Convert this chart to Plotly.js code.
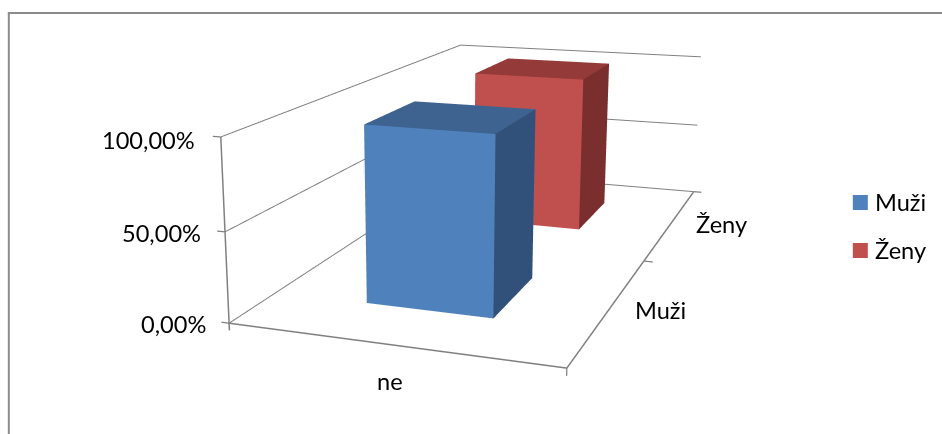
<!DOCTYPE html><html><head><meta charset="utf-8"><script src="https://cdn.plot.ly/plotly-3.0.1.min.js"></script>
<style>html,body{margin:0;background:#fff;overflow:hidden;width:942px;height:434px}#c{position:absolute}</style></head><body><div id="c"></div><script>
const categories=['ne'];
const seriesNames=['Muži','Ženy'];
const seriesValues=[1,1];
const tickValues=[0,0.5,1];
const tickLabels=['0,00%','50,00%','100,00%'];
const seriesColors=[['#4f81bd','#3e6390','#31517a'],['#c0504d','#943a38','#7a2e2d']];

// Pinhole camera fitted to the picture
const eye=[1.2730,-4.0912,0.9983],yaw=-0.3505,pitch=0.2610,aspectY=2.0179,aspectZ=0.5464,focal=1290.7869,cx=440.1815,cy=210.5104;
const barX=[0.3019,0.7019],barY=[[0.1486,0.3496],[0.6505,0.8502]];

const f=[Math.cos(pitch)*Math.sin(yaw),Math.cos(pitch)*Math.cos(yaw),-Math.sin(pitch)];
const dist=Math.hypot(...eye);
const center={x:eye[0]+f[0]*dist,y:eye[1]+f[1]*dist,z:eye[2]+f[2]*dist};
const H=Math.round(2*focal*Math.tan(Math.PI/8)),Wd=Math.round(2*Math.max(cx,942-cx)),L=cx-Wd/2,T=cy-H/2;
const el=document.getElementById('c');el.style.left=L+'px';el.style.top=T+'px';el.style.width=Wd+'px';el.style.height=H+'px';
const X=x=>(x-L)/Wd,Y=y=>1-(y-T)/H;

function box(name,x0,x1,y0,y1,h,cols){return {type:'mesh3d',name,x:[x0,x1,x1,x0,x0,x1,x1,x0],y:[y0,y0,y1,y1,y0,y0,y1,y1],z:[0,0,0,0,h,h,h,h],
i:[4,4,0,0,1,1],j:[5,6,1,5,2,6],k:[6,7,5,4,6,5],facecolor:[cols[1],cols[1],cols[0],cols[0],cols[2],cols[2]],flatshading:true,lighting:{ambient:1,diffuse:0,specular:0,fresnel:0,roughness:1},hoverinfo:'skip',showscale:false}}
function line(pts,w){return {type:'scatter3d',mode:'lines',x:pts.map(p=>p[0]),y:pts.map(p=>p[1]),z:pts.map(p=>p[2]),line:{color:'#808080',width:w},hoverinfo:'skip',showlegend:false}}
const data=[];
for(const z of tickValues){data.push(line([[0,0,z],[0,1,z],[1,1,z]],2));data.push(line([[-.025,0,z],[0,0,z]],2.5))}
data.push(line([[0,0,-.04],[0,0,1]],3));
data.push(line([[0,0,0],[1,0,0],[1,1,0]],3));
data.push(line([[1,0,0],[1,0,-.04]],2.5));
data.push(line([[1,.5,0],[1.03,.5,0]],2.5));
data.push(line([[1,1,0],[1.03,1,0]],2.5));
seriesNames.forEach((n,i)=>data.push(box(n,barX[0],barX[1],barY[i][0],barY[i][1],seriesValues[i],seriesColors[i])));

const ax={range:[-.1,1.1],showgrid:false,showline:false,zeroline:false,showticklabels:false,showbackground:false,showspikes:false,title:{text:''},ticks:''};
const t=(s,x,y,a)=>({text:s,x:X(x),y:Y(y),xref:'paper',yref:'paper',xanchor:a||'center',yanchor:'middle',showarrow:false,font:{family:'Lato',size:23.6,color:'#000'}});
const tickY=[324,233,140];
const layout={width:Wd,height:H,margin:{l:0,r:0,t:0,b:0},paper_bgcolor:'rgba(0,0,0,0)',showlegend:false,
scene:{domain:{x:[0,1],y:[0,1]},xaxis:ax,yaxis:ax,zaxis:ax,aspectmode:'manual',aspectratio:{x:1.2,y:1.2*aspectY,z:1.2*aspectZ},camera:{eye:{x:eye[0],y:eye[1],z:eye[2]},center,up:{x:0,y:0,z:1}}},
annotations:[t(tickLabels[2],197,tickY[2],'right'),t(tickLabels[1],203,tickY[1],'right'),t(tickLabels[0],208,tickY[0],'right'),t(categories[0],390,381),t(seriesNames[0],661,310),t(seriesNames[1],722,224),t(seriesNames[0],873,202,'left'),t(seriesNames[1],873,250,'left')],
shapes:[{type:'line',xref:'paper',yref:'paper',x0:X(9),x1:X(9),y0:Y(13),y1:Y(500),line:{color:'#8c8c8c',width:2}},{type:'line',xref:'paper',yref:'paper',x0:X(8),x1:X(1000),y0:Y(13),y1:Y(13),line:{color:'#8c8c8c',width:2}},
{type:'rect',xref:'paper',yref:'paper',x0:X(853),x1:X(868),y0:Y(195),y1:Y(210),fillcolor:seriesColors[0][0],line:{width:0}},{type:'rect',xref:'paper',yref:'paper',x0:X(853),x1:X(868),y0:Y(243),y1:Y(258),fillcolor:seriesColors[1][0],line:{width:0}}]};
Plotly.newPlot('c',data,layout,{displayModeBar:false});
</script></body></html>
